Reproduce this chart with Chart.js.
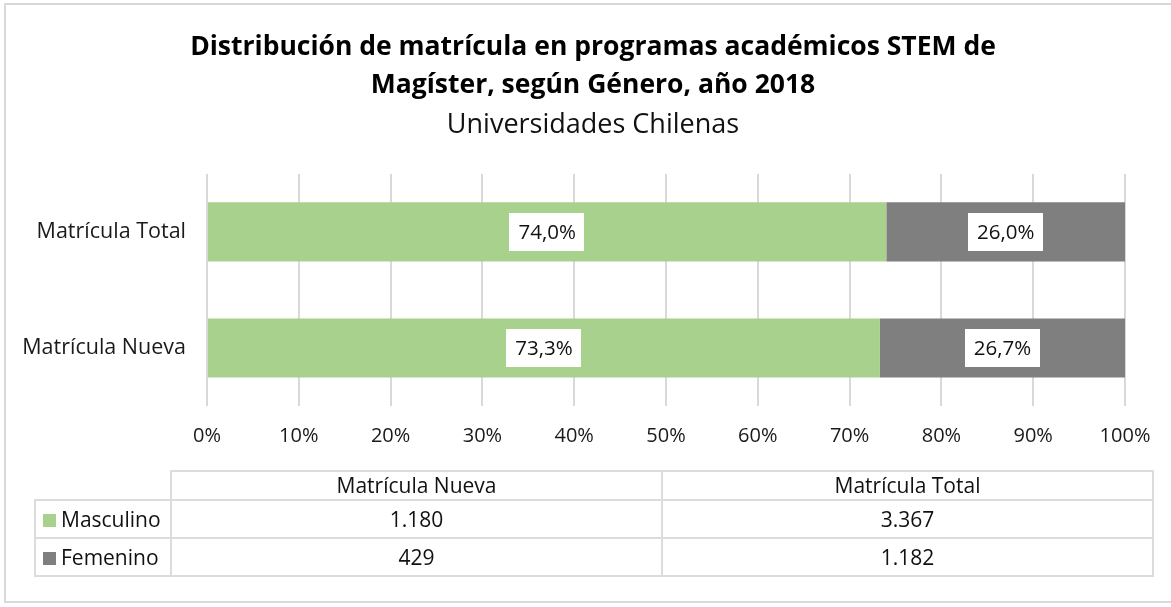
<!DOCTYPE html>
<html lang="es">
<head>
<meta charset="utf-8">
<title>Matrícula STEM Magíster 2018</title>
<script src="https://cdn.jsdelivr.net/npm/chart.js@4.4.1/dist/chart.umd.min.js"></script>
<style>
  body {
    margin: 0;
    background: #ffffff;
    font-family: "Open Sans", sans-serif;
  }
  #wrap {
    position: relative;
    width: 1171px;
    height: 607px;
    overflow: hidden;
  }
  #frame {
    position: absolute;
    left: 4px;
    top: 3px;
    width: 1180px;
    height: 600px;
    border: 2px solid #d9d9d9;
    box-sizing: border-box;
  }
  #enrolChart {
    position: absolute;
    left: 0;
    top: 0;
  }
  #dataTable {
    position: absolute;
    left: 34px;
    top: 470px;
    border-collapse: collapse;
    font-family: "Open Sans", sans-serif;
    font-size: 21px;
    color: #111111;
    table-layout: fixed;
  }
  #dataTable td {
    border: 2px solid #dcdcdc;
    text-align: center;
    padding: 0;
    white-space: nowrap;
    line-height: 1;
  }
  #dataTable td.corner {
    border-top: none;
    border-left: none;
  }
  #dataTable td.rowLabel {
    text-align: left;
    padding-left: 7px;
  }
  .swatch {
    display: inline-block;
    width: 13px;
    height: 13px;
    margin-right: 5px;
    vertical-align: 0px;
  }
</style>
</head>
<body>
<div id="wrap">
  <div id="frame"></div>
  <!-- canvas runs a little past the right edge, like the frame -->
  <canvas id="enrolChart" width="1186" height="607"></canvas>
  <table id="dataTable"></table>
</div>

<script>
// Categories as listed in the data table (Nueva first)
const categories = ["Matrícula Nueva", "Matrícula Total"];

// Share of enrolment by gender (%)
const masculinoPct = [73.3, 74.0];
const femeninoPct = [26.7, 26.0];

// Enrolment counts shown in the table
const masculinoCount = ["1.180", "3.367"];
const femeninoCount = ["429", "1.182"];

// x axis ticks
const tickValues = [0, 10, 20, 30, 40, 50, 60, 70, 80, 90, 100];

const GREEN = "#a9d18e";
const GREY = "#7f7f7f";
const FONT = "'Open Sans'";

// format 74 -> "74,0%"
function pctLabel(v) {
  return v.toFixed(1).replace(".", ",") + "%";
}

// white boxed labels in the middle of each bar segment
const boxLabels = {
  id: "boxLabels",
  afterDatasetsDraw(chart) {
    const ctx = chart.ctx;
    ctx.save();
    ctx.font = "20.5px " + FONT;
    ctx.textAlign = "center";
    ctx.textBaseline = "middle";
    chart.data.datasets.forEach((ds, i) => {
      const meta = chart.getDatasetMeta(i);
      meta.data.forEach((bar, j) => {
        const text = pctLabel(ds.data[j]);
        const cx = (bar.x + bar.base) / 2;
        const cy = bar.y;
        const w = ctx.measureText(text).width + 18;
        const h = 38;
        ctx.fillStyle = "#ffffff";
        ctx.fillRect(Math.round(cx - w / 2), Math.round(cy - h / 2), Math.round(w), h);
        ctx.fillStyle = "#111111";
        ctx.fillText(text, cx, cy + 1);
      });
    });
    ctx.restore();
  },
};

function setUpChart() {
  new Chart(document.getElementById("enrolChart"), {
    type: "bar",
    data: {
      labels: categories,
      datasets: [
        {
          label: "Masculino",
          data: masculinoPct,
          backgroundColor: GREEN,
        },
        {
          label: "Femenino",
          data: femeninoPct,
          backgroundColor: GREY,
        },
      ],
    },
    options: {
      indexAxis: "y",
      responsive: false,
      animation: false,
      devicePixelRatio: 1,
      layout: {
        padding: { left: 0, right: 0, top: 0, bottom: 151 },
      },
      datasets: {
        bar: {
          categoryPercentage: 0.51,
          barPercentage: 1,
        },
      },
      scales: {
        x: {
          stacked: true,
          min: 0,
          max: 100,
          afterBuildTicks: (scale) => {
            scale.ticks = tickValues.map((v) => ({ value: v }));
          },
          afterFit: (scale) => {
            scale.height = 50;
          },
          ticks: {
            callback: (v) => v + "%",
            color: "#1a1a1a",
            padding: 18,
            font: { family: FONT, size: 20 },
          },
          grid: {
            color: "#d9d9d9",
            lineWidth: 2,
            drawTicks: false,
          },
          border: { display: false },
        },
        y: {
          stacked: true,
          reverse: true,
          afterFit: (scale) => {
            scale.width = 207;
          },
          ticks: {
            color: "#1a1a1a",
            padding: 21,
            font: { family: FONT, size: 21.5 },
          },
          grid: { display: false, drawTicks: false },
          border: { display: false },
        },
        // empty right axis, only reserves space so the plot ends before 100% label
        yRight: {
          type: "category",
          position: "right",
          afterFit: (scale) => {
            scale.width = 61;
          },
          ticks: { display: false },
          grid: { display: false, drawTicks: false },
          border: { display: false },
        },
      },
      plugins: {
        legend: { display: false },
        tooltip: { enabled: false },
        title: {
          display: true,
          text: [
            "Distribución de matrícula en programas académicos STEM de",
            "Magíster, según Género, año 2018",
          ],
          color: "#000000",
          font: { family: FONT, size: 26.5, weight: "bold", lineHeight: 1.45 },
          padding: { top: 28, bottom: 5 },
        },
        subtitle: {
          display: true,
          text: "Universidades Chilenas",
          color: "#111111",
          font: { family: FONT, size: 27, lineHeight: 1.15 },
          padding: { top: 0, bottom: 33 },
        },
      },
    },
    plugins: [boxLabels],
  });
}

// data table under the chart
function buildTable() {
  const table = document.getElementById("dataTable");
  const widths = [136, 491, 491];
  let html = "<colgroup>" + widths.map((w) => `<col style="width:${w}px">`).join("") + "</colgroup>";
  html += `<tr style="height:29px"><td class="corner"></td>` +
    categories.map((c) => `<td>${c}</td>`).join("") + "</tr>";
  const rows = [
    { name: "Masculino", color: GREEN, values: masculinoCount },
    { name: "Femenino", color: GREY, values: femeninoCount },
  ];
  rows.forEach((r) => {
    html += `<tr style="height:38px"><td class="rowLabel"><span class="swatch" style="background:${r.color}"></span>${r.name}</td>` +
      r.values.map((v) => `<td>${v}</td>`).join("") + "</tr>";
  });
  table.innerHTML = html;
}

buildTable();
setUpChart();
</script>
</body>
</html>
